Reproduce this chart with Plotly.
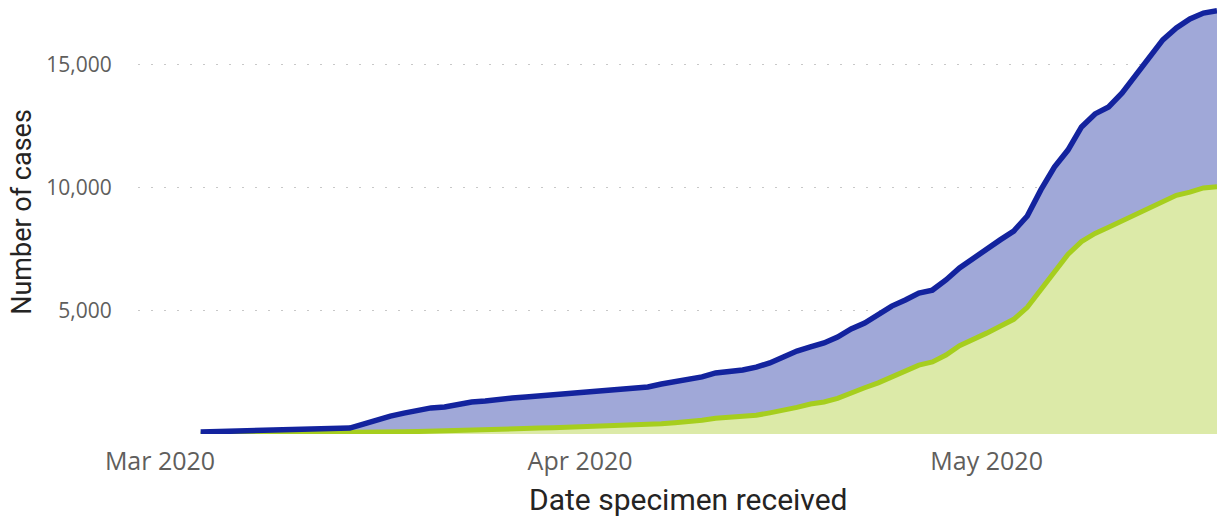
import pandas as pd
import plotly.graph_objects as go

start_date = "2020-03-04"
end_date = "2020-05-18"

total_cases = [80, 90, 100, 110, 120, 130, 140, 155, 170, 190, 210, 240,
               400, 570, 730, 850, 975, 1060, 1100, 1220, 1300, 1340, 1420, 1460, 1500, 1540, 1590, 1670,
               1710, 1750, 1790, 1830, 1870, 1910, 2030, 2110, 2200, 2320,
               2480, 2520, 2600, 2720, 2890, 3130, 3370, 3540, 3700, 3940,
               4270, 4510, 4840, 5200, 5450, 5730, 5850, 6260, 6750, 7150,
               7520, 7890, 8250, 8860, 9920, 10850, 11540, 12480, 13010, 13290,
               13860, 14590, 15370, 16020, 16500, 16870, 17110, 17200]

subset_cases = [10, 12, 15, 18, 20, 25, 30, 35, 40, 45, 50, 55,
                60, 70, 80, 90, 100, 110, 120, 135, 150, 165, 180, 200, 220, 240, 255, 270,
                290, 300, 310, 330, 350, 380, 420, 460, 500, 560,
                640, 670, 690, 760, 860, 950, 1080, 1220, 1300, 1450,
                1680, 1880, 2080, 2330, 2540, 2800, 2930, 3210, 3590, 3830,
                4100, 4380, 4660, 5150, 5850, 6600, 7300, 7820, 8150, 8400,
                8650, 8900, 9150, 9450, 9700, 9830, 10000, 10050]

x_tick_vals = ["2020-03-01", "2020-04-01", "2020-05-01"]
x_tick_text = ["Mar 2020", "Apr 2020", "May 2020"]
y_tick_vals = [5000, 10000, 15000]
y_tick_text = ["5,000", "10,000", "15,000"]

dates = pd.date_range(start_date, end_date, freq="D")

BLUE_LINE = "#13239E"
BLUE_FILL = "#A0A8D8"
GREEN_LINE = "#A6CE1E"
GREEN_FILL = "#DCEAA8"

fig = go.Figure()
fig.add_trace(go.Scatter(x=dates, y=total_cases, mode="lines", fill="tozeroy",
                         fillcolor=BLUE_FILL, line=dict(width=0, color=BLUE_FILL),
                         hoverinfo="skip", showlegend=False))
fig.add_trace(go.Scatter(x=dates, y=subset_cases, mode="lines", fill="tozeroy",
                         fillcolor=GREEN_FILL, line=dict(width=5, color=GREEN_LINE),
                         showlegend=False))
fig.add_trace(go.Scatter(x=dates, y=total_cases, mode="lines",
                         line=dict(width=5.5, color=BLUE_LINE),
                         showlegend=False))

fig.update_layout(
    width=1217, height=518,
    margin=dict(l=138, r=0, t=0, b=84),
    plot_bgcolor="white", paper_bgcolor="white",
    font=dict(family="Open Sans", color="#605E5C"),
)
fig.update_xaxes(
    range=["2020-02-28 09:00", "2020-05-18 00:00"],
    tickvals=x_tick_vals, ticktext=x_tick_text,
    tickfont=dict(size=25, color="#605E5C", family="Open Sans"),
    showgrid=False, zeroline=False, showline=False,
    ticks="outside", ticklen=5, tickcolor="rgba(0,0,0,0)",
)
fig.update_yaxes(
    range=[0, 17640],
    tickvals=y_tick_vals, ticktext=y_tick_text,
    tickfont=dict(size=21, color="#605E5C", family="Open Sans"),
    showgrid=True, gridcolor="#C8C8C8", gridwidth=1, griddash="2px,11px",
    zeroline=False, showline=False,
    ticks="outside", ticklen=21, tickcolor="rgba(0,0,0,0)",
)
fig.add_annotation(text="Number of cases", xref="paper", yref="paper",
                   x=-0.1075, y=0.512, xanchor="center", yanchor="middle",
                   textangle=-90, showarrow=False,
                   font=dict(size=27, color="#252423", family="Roboto"))
fig.add_annotation(text="Date specimen received", xref="paper", yref="paper",
                   x=0.51, y=-0.15, xanchor="center", yanchor="middle",
                   showarrow=False,
                   font=dict(size=30, color="#252423", family="Roboto"))

fig.write_html("out.html", config={"displayModeBar": False},
               post_script="document.body.style.margin='0';")
